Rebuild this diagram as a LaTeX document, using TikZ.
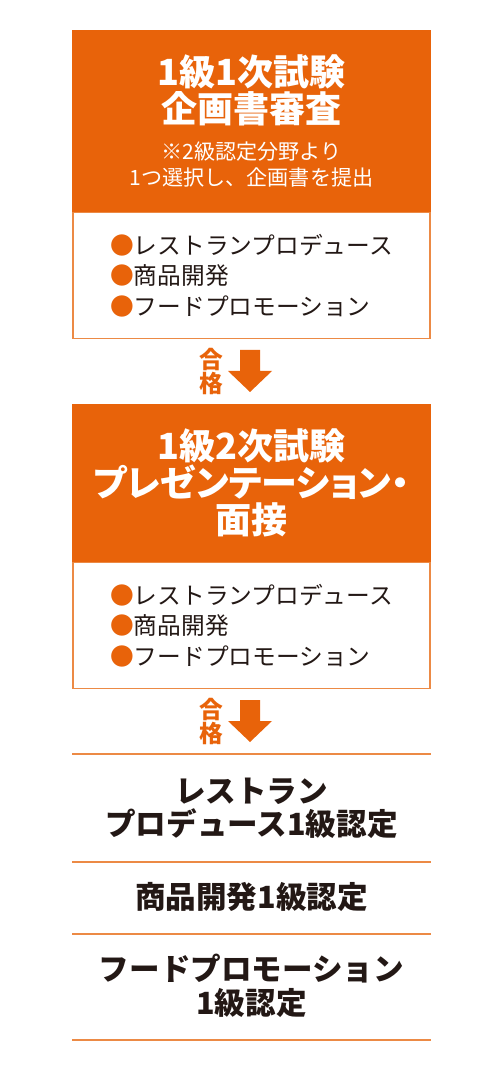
\documentclass[tikz,border=0pt]{standalone}
\usepackage{fontspec}
\setmainfont{Noto Sans CJK JP}
\newfontfamily\jphead{Noto Sans CJK JP}[RawFeature=+palt]
\usetikzlibrary{positioning}
\definecolor{exorange}{HTML}{E8630A}
\definecolor{exline}{HTML}{EC8A45}
\definecolor{exink}{HTML}{231815}
\newcommand{\fielddot}{{\color{exorange}●}}

\begin{document}
\begin{tikzpicture}[x=0.02cm,y=-0.02cm,thick]

  % styles
  \tikzstyle{head}=[fill=exorange,draw=exorange,line width=1pt,minimum width=7.14cm,inner sep=0pt]
  \tikzstyle{title}=[text=white,align=center,inner sep=0pt,font=\jphead\bfseries\fontsize{20.5}{21}\selectfont]
  \tikzstyle{note}=[text=white,align=center,inner sep=0pt,font=\fontsize{12}{14.8}\selectfont]
  \tikzstyle{field}=[draw=exline,line width=1pt,minimum width=7.14cm,minimum height=2.52cm,align=left,inner sep=0pt,text=exink,font=\fontsize{13.5}{17.4}\selectfont]
  \tikzstyle{pass}=[text=exorange,align=center,inner sep=0pt,font=\bfseries\fontsize{13.5}{13.3}\selectfont]
  \tikzstyle{award}=[minimum width=7.14cm,align=center,inner sep=0pt,text=exink,font=\bfseries\fontsize{17.4}{19}\selectfont]
  \tikzstyle{rule}=[draw=exline,line width=1.1pt]

  \useasboundingbox (0,0) rectangle (500,1070);

  % first exam
  \node[head,minimum height=3.6cm,anchor=north] (exam1) at (251.5,30) {};
  \node[title] (exam1t) at (251.5,90) {1級1次試験\\企画書審査};
  \node[note] (exam1n) at (251.5,165) {※2級認定分野より\\1つ選択し、企画書を提出};
  \node[field,anchor=north] (list1) at (exam1.south) {\fielddot レストランプロデュース\\\fielddot 商品開発\\\fielddot フードプロモーション};

  % second exam
  \node[head,minimum height=3.12cm,anchor=north] (exam2) at (251.5,404) {};
  \node[title] (exam2t) at (exam2) {1級2次試験\\プレゼンテーション・\\面接};
  \node[field,anchor=north] (list2) at (exam2.south) {\fielddot レストランプロデュース\\\fielddot 商品開発\\\fielddot フードプロモーション};

  % pass arrows
  \foreach \y in {350,700} {
    \fill[exorange] (240,\y) -- ++(20,0) -- ++(0,21) -- ++(12,0) -- ++(-22,21)
      -- ++(-22,-21) -- ++(12,0) -- cycle;
    \node[pass] (pass\y) at (211,\y+21.5) {合\\格};
  }

  % certificates
  \node[award,minimum height=2.12cm] (award1) at (251.5,808) {レストラン\\プロデュース1級認定};
  \node[award,minimum height=1.44cm] (award2) at (251.5,897) {商品開発1級認定};
  \node[award,minimum height=2.12cm] (award3) at (251.5,986) {フードプロモーション\\1級認定};

  \draw[rule] (award1.north west) -- (award1.north east);
  \foreach \n in {1,2,3}
    \draw[rule] (award\n.south west) -- (award\n.south east);

\end{tikzpicture}
\end{document}
